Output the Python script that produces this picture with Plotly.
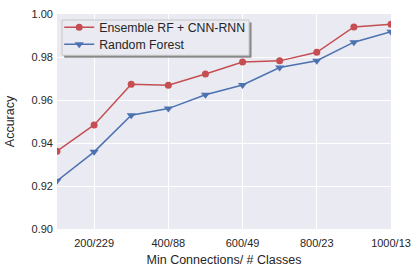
import plotly.graph_objects as go

min_connections = [100, 200, 300, 400, 500, 600, 700, 800, 900, 1000]
tick_positions = [200, 400, 600, 800, 1000]
tick_labels = ["200/229", "400/88", "600/49", "800/23", "1000/13"]
ensemble_acc = [0.9362, 0.9484, 0.9673, 0.9669, 0.9721, 0.9777, 0.9782, 0.9822, 0.9940, 0.9952]
rf_acc = [0.9224, 0.9359, 0.9529, 0.9560, 0.9624, 0.9670, 0.9751, 0.9783, 0.9869, 0.9918]

RED = "#C44E52"
BLUE = "#4C72B0"
TXT = "#262626"
FONT = "Liberation Sans, Arial, sans-serif"

W, H = 419, 273
ml, mr, mt, mb = 57.3, 28.3, 14, 43.7
pw, ph = W - ml - mr, H - mt - mb

def px2paper(x, y):
    return (x - ml) / pw, 1 - (y - mt) / ph

fig = go.Figure()
fig.add_trace(go.Scatter(
    x=min_connections, y=ensemble_acc, mode="lines+markers",
    name="Ensemble RF + CNN-RNN", legend="legend",
    line=dict(color=RED, width=1.5),
    marker=dict(symbol="circle", size=7, color=RED),
))
fig.add_trace(go.Scatter(
    x=min_connections, y=rf_acc, mode="lines+markers",
    name="Random Forest", legend="legend2",
    line=dict(color=BLUE, width=1.5),
    marker=dict(symbol="triangle-down", size=8, color=BLUE),
))

# legend shadow
sx0, sy0 = px2paper(64.5, 22.5)
sx1, sy1 = px2paper(251.5, 57.8)
fig.add_shape(type="rect", xref="paper", yref="paper",
              x0=sx0, x1=sx1, y0=sy1, y1=sy0,
              fillcolor="rgba(120,120,120,0.85)", line=dict(width=0), layer="above")
# legend box
bx0, by0 = px2paper(62.3, 20)
bx1, by1 = px2paper(249, 55.3)
fig.add_shape(type="rect", xref="paper", yref="paper",
              x0=bx0, x1=bx1, y0=by1, y1=by0,
              fillcolor="#EAEAF2", line=dict(width=1, color="#C8C8C8"), layer="above")

lx, ly1 = px2paper(59.5, 27.3)
_, ly2 = px2paper(59.5, 44.3)
leg_common = dict(xanchor="left", yanchor="middle", bgcolor="rgba(0,0,0,0)", borderwidth=0,
                  font=dict(size=12.3, color=TXT, family=FONT), itemwidth=30)

fig.update_layout(
    width=W, height=H,
    margin=dict(l=ml, r=mr, t=mt, b=mb, autoexpand=False),
    paper_bgcolor="white",
    plot_bgcolor="#EAEAF2",
    font=dict(family=FONT, color=TXT, size=11),
    showlegend=True,
    legend=dict(x=lx, y=ly1, **leg_common),
    legend2=dict(x=lx, y=ly2, **leg_common),
    xaxis=dict(
        range=[100, 1000], automargin=False,
        tickmode="array", tickvals=tick_positions, ticktext=tick_labels,
        showgrid=True, gridcolor="white", gridwidth=1.2,
        zeroline=False, showline=False, ticks="",
        tickfont=dict(size=11, color=TXT), ticklabelstandoff=6,
        title=dict(text="Min Connections/ # Classes", font=dict(size=12.5, color=TXT), standoff=7),
    ),
    yaxis=dict(
        range=[0.90, 1.00], automargin=False,
        tickmode="array", tickvals=[0.90, 0.92, 0.94, 0.96, 0.98, 1.00],
        tickformat=".2f",
        showgrid=True, gridcolor="white", gridwidth=1.2,
        zeroline=False, showline=False, ticks="",
        tickfont=dict(size=11, color=TXT), ticklabelstandoff=3,
        title=dict(text="Accuracy", font=dict(size=12.5, color=TXT), standoff=14),
    ),
)

fig.write_html("out.html", config={"displayModeBar": False},
               post_script="document.body.style.margin='0';")
